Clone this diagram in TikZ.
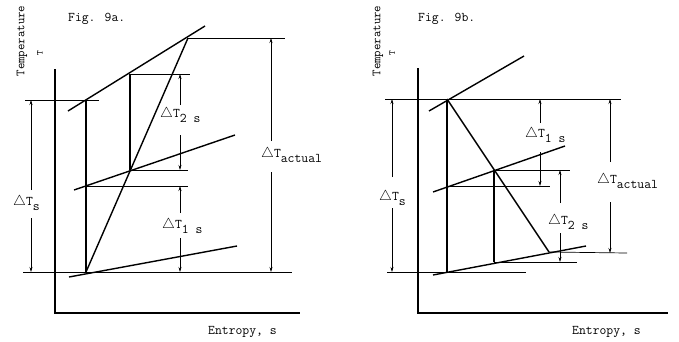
\documentclass[tikz,border=0pt]{standalone}
\usetikzlibrary{arrows.meta}
\newcommand\dT[1]{$\triangle$T\raisebox{-5pt}{#1}}

\begin{document}
\begin{tikzpicture}[x=1pt,y=-1pt,font=\ttfamily\fontsize{13.3}{15}\selectfont,
  axisline/.style={line width=2.6pt},
  procline/.style={line width=1.4pt},
  guide/.style={line width=0.7pt},
  dim/.style={line width=0.6pt,-{Stealth[length=5pt,width=3pt]}},
  lbl/.style={inner sep=0pt,anchor=base west}]
\useasboundingbox (0,0) rectangle (679,341);
% Fig. 9a
\draw[axisline] (55,69) -- (55,313) -- (300,313);
\node[rotate=90,font=\ttfamily\fontsize{12.5}{14}\selectfont] (tempa) at (22,41) {Temperature};
\node[rotate=90,font=\ttfamily\fontsize{9}{10}\selectfont] (tsyma) at (40,53) {T};
\node[lbl] (figa) at (68,21) {Fig. 9a.};
\node[lbl] (enta) at (208,334) {Entropy, s};
\coordinate (a1) at (86,272);
\coordinate (a2) at (86,100);
\coordinate (a3) at (130,74);
\coordinate (a4) at (130,170);
\coordinate (a5) at (188,38);
\draw[procline] (68,111) -- (205,26);
\draw[procline] (74,190) -- (235,135);
\draw[procline] (69,277) -- (237,246);
\draw[procline] (a1) -- (a2);
\draw[procline] (a3) -- (a4);
\draw[procline] (a1) -- (a5);
\draw[guide] (a5) -- (285,38);
\draw[guide] (a3) -- (190,74);
\draw[guide] (25,100) -- (99,100);
\draw[guide] (a4) -- (188,170);
\draw[guide] (86,186) -- (188,186);
\draw[guide] (23,272) -- (292,272);
\draw[dim] (31,190) -- (31,100);
\draw[dim] (31,218) -- (31,272);
\node[lbl] (dTsa) at (13,205) {\dT{s}};
\draw[dim] (180,105) -- (180,74);
\draw[dim] (180,135) -- (180,170);
\node[lbl] (dT2a) at (160,117) {\dT{2 s}};
\draw[dim] (180,213) -- (180,186);
\draw[dim] (180,238) -- (180,272);
\node[lbl] (dT1a) at (162,228) {\dT{1 s}};
\draw[dim] (271,141) -- (271,38);
\draw[dim] (271,172) -- (271,272);
\node[lbl] (dTacta) at (261,157) {\dT{actual}};
% Fig. 9b
\draw[axisline] (418,68) -- (418,313) -- (668,313);
\node[rotate=90,font=\ttfamily\fontsize{12.5}{14}\selectfont] (tempb) at (378,41) {Temperature};
\node[rotate=90,font=\ttfamily\fontsize{9}{10}\selectfont] (tsymb) at (392,53) {T};
\node[lbl] (figb) at (418,21) {Fig. 9b.};
\node[lbl] (entb) at (572,334) {Entropy, s};
\coordinate (b1) at (447,272);
\coordinate (b2) at (447,99);
\coordinate (b3) at (494,170);
\coordinate (b4) at (494,262);
\coordinate (b5) at (549,252);
\draw[procline] (429,111) -- (524,56);
\draw[procline] (433,192) -- (565,146);
\draw[procline] (433,275) -- (586,246);
\draw[procline] (b1) -- (b2);
\draw[procline] (b3) -- (b4);
\draw[procline] (b2) -- (b5);
\draw[guide] (385,99) -- (621,99);
\draw[guide] (b3) -- (570,170);
\draw[guide] (447,186) -- (550,186);
\draw[guide] (387,272) -- (526,272);
\draw[guide] (b4) -- (577,262);
\draw[guide] (b5) -- (627,253);
\draw[dim] (392,177) -- (392,99);
\draw[dim] (392,208) -- (392,272);
\node[lbl] (dTsb) at (379,200) {\dT{s}};
\draw[dim] (540,123) -- (540,99);
\draw[dim] (540,152) -- (540,186);
\node[lbl] (dT1b) at (525,137) {\dT{1 s}};
\draw[dim] (560,203) -- (560,170);
\draw[dim] (560,233) -- (560,262);
\node[lbl] (dT2b) at (548,224) {\dT{2 s}};
\draw[dim] (610,162) -- (610,99);
\draw[dim] (610,202) -- (610,253);
\node[lbl] (dTactb) at (597,183) {\dT{actual}};
\end{tikzpicture}
\end{document}
